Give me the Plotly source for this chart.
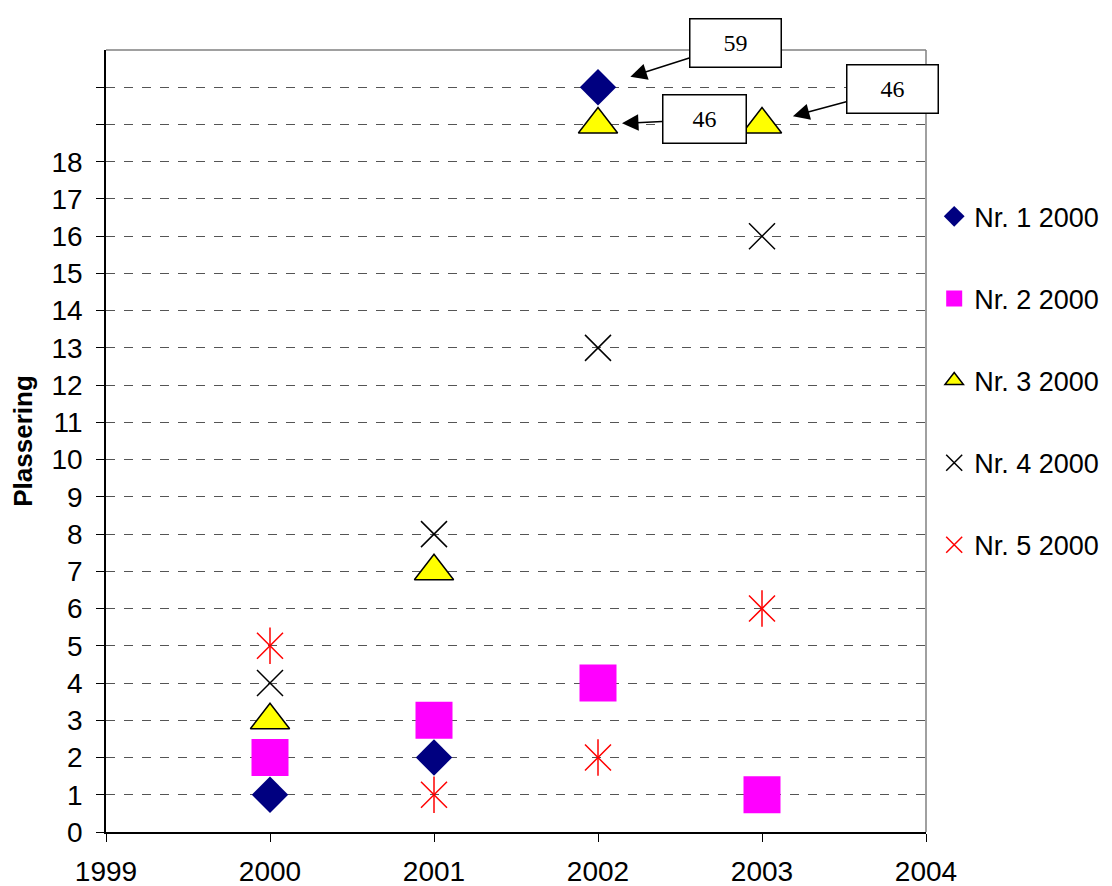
import plotly.graph_objects as go

years = [2000, 2001, 2002, 2003]

# plotted positions (values above 18 are drawn at the top rows and labelled)
nr1 = [1, 2, 20, None]
nr2 = [2, 3, 4, 1]
nr3 = [3, 7, 19, 19]
nr4 = [4, 8, 13, 16]
nr5 = [5, 1, 2, 6]

# off-scale labels: (year, plotted y, real placement)
offscale_years = [2002, 2002, 2003]
offscale_y = [20, 19, 19]
offscale_text = ["59", "46", "46"]

y_ticks = list(range(0, 21))
y_ticktext = [str(v) if v <= 18 else "" for v in y_ticks]
x_ticks = [1999, 2000, 2001, 2002, 2003, 2004]

fig = go.Figure()
fig.add_trace(go.Scatter(x=years, y=nr1, mode="markers", name="Nr. 1 2000",
                         legendgroup="1",
                         marker=dict(symbol="diamond", size=28, color="#000080",
                                     line=dict(width=0))))
fig.add_trace(go.Scatter(x=years, y=nr2, mode="markers", name="Nr. 2 2000",
                         legendgroup="2",
                         marker=dict(symbol="square", size=37, color="#FF00FF",
                                     line=dict(width=0))))
fig.add_trace(go.Scatter(x=years, y=nr3, mode="markers", name="Nr. 3 2000",
                         legendgroup="3",
                         marker=dict(symbol="triangle-up", size=34, color="#FFFF00",
                                     line=dict(color="black", width=1.5))))
fig.add_trace(go.Scatter(x=years, y=nr4, mode="markers", name="Nr. 4 2000",
                         legendgroup="4",
                         marker=dict(symbol="x-thin-open", size=26, color="black",
                                     line=dict(color="black", width=1.5))))
fig.add_trace(go.Scatter(x=years, y=nr5, mode="markers", name="Nr. 5 2000",
                         legendgroup="5",
                         marker=dict(symbol="x-thin-open", size=26, color="#FF0000",
                                     line=dict(color="#FF0000", width=1.5))))
fig.add_trace(go.Scatter(x=years, y=nr5, mode="markers", name="Nr. 5 2000",
                         legendgroup="5", showlegend=False,
                         marker=dict(symbol="line-ns-open", size=26, color="#FF0000",
                                     line=dict(color="#FF0000", width=1.5))))

# callout boxes for values beyond the axis
offsets = [(137, -44, 34, 88), (106, -5, 24, 80), (130, -35, 32, 88)]
for xv, yv, txt, (ax, ay, so, w) in zip(offscale_years, offscale_y, offscale_text, offsets):
    fig.add_annotation(x=xv, y=yv, text=txt, showarrow=True, arrowhead=2,
                       arrowsize=2.2, arrowwidth=1.5, arrowcolor="black",
                       ax=ax, ay=ay, standoff=so, width=w, height=45, borderpad=1,
                       bordercolor="black", borderwidth=1.5, bgcolor="white",
                       font=dict(family="Liberation Serif", size=24, color="black"))

# grey frame on top and right
fig.add_shape(type="line", xref="paper", yref="paper", x0=0, x1=1, y0=1, y1=1,
              line=dict(color="#808080", width=1.5))
fig.add_shape(type="line", xref="paper", yref="paper", x0=1, x1=1, y0=0, y1=1,
              line=dict(color="#808080", width=1.5))

fig.update_layout(
    width=1104,
    height=878,
    margin=dict(l=98, r=186, t=42, b=54, autoexpand=False),
    plot_bgcolor="white",
    paper_bgcolor="white",
    font=dict(family="Liberation Sans", size=28, color="black"),
    legend=dict(x=1.01, y=0.818, xanchor="left", yanchor="top",
                tracegroupgap=44, font=dict(size=27)),
    xaxis=dict(range=[1999, 2004], tickvals=x_ticks, ticks="outside", ticklen=8,
               tickcolor="black", showgrid=False, showline=True, linecolor="black",
               linewidth=1.5, zeroline=False, ticklabelstandoff=6, automargin=False),
    yaxis=dict(range=[0, 21], tickvals=y_ticks, ticktext=y_ticktext,
               ticks="outside", ticklen=8, tickcolor="black",
               showgrid=True, gridcolor="#555555", griddash="dash", gridwidth=1,
               showline=True, linecolor="black", linewidth=1.5, zeroline=False,
               automargin=False, ticklabelstandoff=8,
               title=dict(text="<b>Plassering</b>", font=dict(size=26), standoff=11)),
)

fig.write_html("out.html")
